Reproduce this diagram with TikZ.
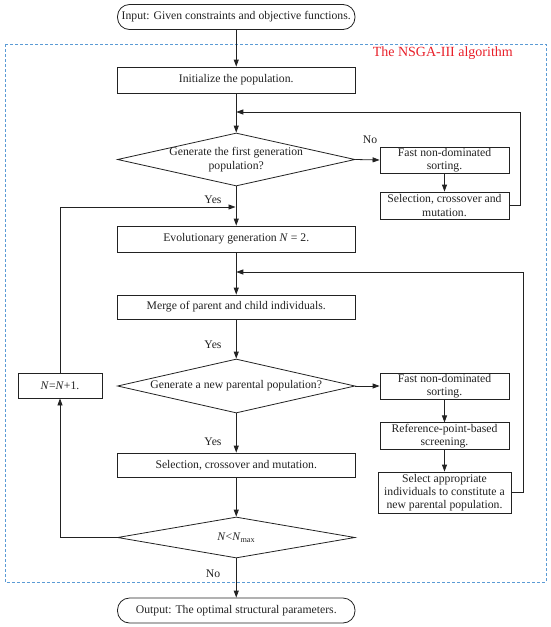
\documentclass[tikz,border=0pt]{standalone}
\usepackage{fontspec}
\setmainfont{Liberation Serif}
\usetikzlibrary{shapes.geometric,arrows.meta}
\definecolor{frameblue}{HTML}{5B9BD5}
\definecolor{titlered}{HTML}{E8202A}
\definecolor{linegray}{HTML}{222222}
\begin{document}
\begin{tikzpicture}[x=1pt,y=-1pt,
  font=\fontsize{11.7}{13.5}\selectfont,
  every node/.style={text=linegray},
  box/.style={draw=linegray,line width=0.8pt,rectangle,inner sep=1pt,align=center,minimum width=237.5pt,minimum height=25pt},
  sbox/.style={draw=linegray,line width=0.8pt,rectangle,inner sep=1pt,align=center,minimum width=129pt,minimum height=26pt},
  term/.style={box,rounded corners=12pt},
  dia/.style={draw=linegray,line width=0.8pt,diamond,inner sep=0pt,minimum width=237.5pt},
  lbl/.style={inner sep=0pt},
  conn/.style={draw=linegray,line width=0.8pt},
  arr/.style={conn,-{Triangle[length=7pt,width=5pt]}}]
\useasboundingbox (0,0) rectangle (550,627);
% frame
\draw[frameblue,line width=0.9pt,dash pattern=on 3pt off 2pt] (5,44) rectangle (546,582);
\node[lbl,anchor=east,text=titlered,font=\fontsize{14}{16}\selectfont] (title) at (513,53) {The NSGA-III algorithm};
% main column
\node[term] (in) at (236.25,17) {Input: Given constraints and objective functions.};
\node[box,minimum height=26pt] (init) at (236.25,80) {Initialize the population.};
\node[dia,minimum height=53pt] (d1) at (236.25,159.5) {};
\node[lbl,align=center] (d1t) at (236.25,159.5) {Generate the first generation\\population?};
\node[box,minimum height=26pt] (evo) at (236.25,239) {Evolutionary generation \textit{N} = 2.};
\node[box,minimum height=24pt] (merge) at (236.25,307) {Merge of parent and child individuals.};
\node[dia,minimum height=54pt] (d2) at (236.25,386) {};
\node[lbl] (d2t) at (236.25,386) {Generate a new parental population?};
\node[box,minimum height=24pt] (sel2) at (236.25,465) {Selection, crossover and mutation.};
\node[dia,minimum height=41pt] (d3) at (236.25,537.5) {};
\node[lbl] (d3t) at (236.25,537.5) {\textit{N}<\textit{N}\textsubscript{max}};
\node[term,minimum height=25pt] (out) at (236.25,610.5) {Output: The optimal structural parameters.};
% right column
\node[sbox] (f1) at (444.5,160) {Fast non-dominated\\sorting.};
\node[sbox,minimum height=27pt] (s1) at (444.5,205.5) {Selection, crossover and\\mutation.};
\node[sbox] (f2) at (444.5,386) {Fast non-dominated\\sorting.};
\node[sbox] (ref) at (444.5,436) {Reference-point-based\\screening.};
\node[sbox,minimum width=133pt,minimum height=41pt,font=\fontsize{11.7}{12.8}\selectfont] (sa) at (444.5,492.5) {Select appropriate\\individuals to constitute a\\new parental population.};
% left
\node[sbox,minimum width=84pt,minimum height=25pt] (nn) at (60,385.5) {\textit{N}=\textit{N}+1.};
% labels
\node[lbl] (no1) at (370,140) {No};
\node[lbl] (yes1) at (213,200) {Yes};
\node[lbl] (yes2) at (213,345) {Yes};
\node[lbl] (yes3) at (213,442) {Yes};
\node[lbl] (no2) at (213,574) {No};
% coordinates
\coordinate (j1) at (236.25,112);
\coordinate (j2) at (236.25,272);
\coordinate (j0) at (235.5,207);
\coordinate (r1) at (520,112);
\coordinate (r2) at (523,272);
% main arrows
\draw[arr] (in) -- (init);
\draw[arr] (init) -- (d1.north);
\draw[arr] (d1.south) -- (evo);
\draw[arr] (evo) -- (merge);
\draw[arr] (merge) -- (d2.north);
\draw[arr] (d2.south) -- (sel2);
\draw[arr] (sel2) -- (d3.north);
\draw[arr] (d3.south) -- (out);
% right branches
\draw[arr] (d1.east) -- (f1.west);
\draw[arr] (f1) -- (s1);
\draw[arr] (s1.east) -| (r1) -- (j1);
\draw[arr] (d2.east) -- (f2.west);
\draw[arr] (f2) -- (ref);
\draw[arr] (ref) -- (sa);
\draw[arr] (sa.east) -| (r2) -- (j2);
% left loop
\draw[arr] (d3.west) -| (nn.south);
\draw[arr] (nn.north) |- (j0);
\end{tikzpicture}
\end{document}
